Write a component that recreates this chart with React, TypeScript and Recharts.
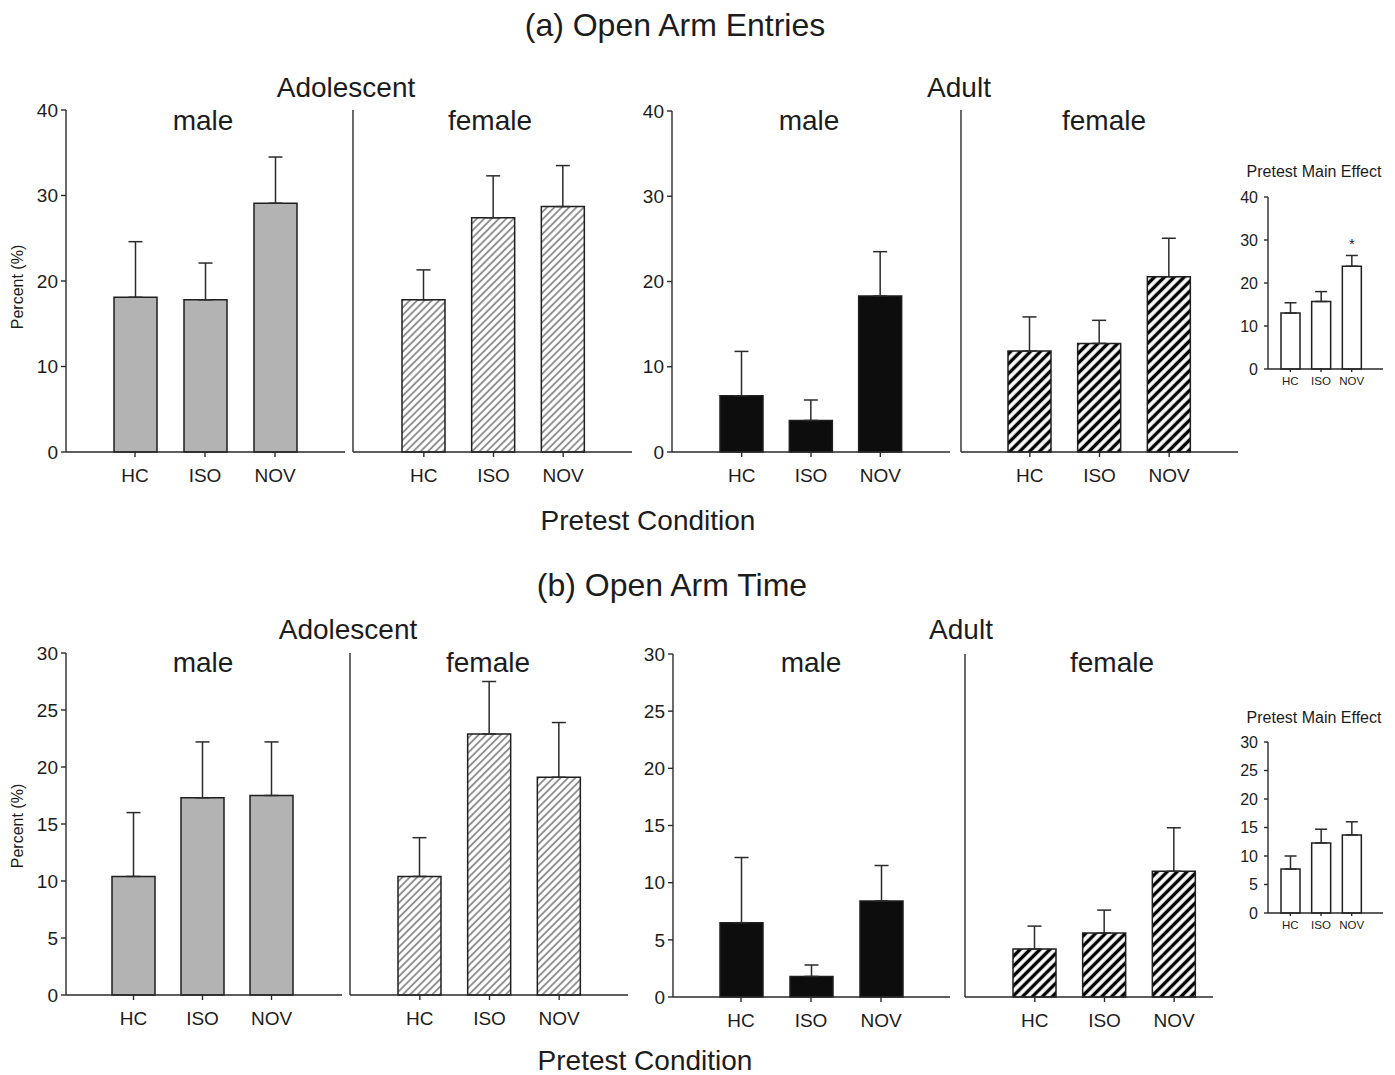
import React from "react";
import { BarChart, Bar, XAxis, YAxis, ErrorBar, LabelList } from "recharts";

const FONT = '"Liberation Sans", Arial, Helvetica, sans-serif';
const INK = "#1c1c1c";

const categories = ["HC", "ISO", "NOV"];

// (a) open arm entries, % (mean, SEM)
const entriesAdolMale = [18.1, 17.8, 29.1];
const entriesAdolMaleSem = [6.5, 4.3, 5.4];
const entriesAdolFemale = [17.8, 27.4, 28.7];
const entriesAdolFemaleSem = [3.5, 4.9, 4.8];
const entriesAdultMale = [6.6, 3.7, 18.3];
const entriesAdultMaleSem = [5.2, 2.4, 5.2];
const entriesAdultFemale = [11.8, 12.7, 20.5];
const entriesAdultFemaleSem = [4.0, 2.7, 4.5];
const entriesPretest = [13.0, 15.7, 23.9];
const entriesPretestSem = [2.4, 2.3, 2.5];
const entriesPretestSig = ["", "", "*"];

// (b) open arm time, %
const timeAdolMale = [10.4, 17.3, 17.5];
const timeAdolMaleSem = [5.6, 4.9, 4.7];
const timeAdolFemale = [10.4, 22.9, 19.1];
const timeAdolFemaleSem = [3.4, 4.6, 4.8];
const timeAdultMale = [6.5, 1.8, 8.4];
const timeAdultMaleSem = [5.7, 1.0, 3.1];
const timeAdultFemale = [4.2, 5.6, 11.0];
const timeAdultFemaleSem = [2.0, 2.0, 3.8];
const timePretest = [7.7, 12.3, 13.7];
const timePretestSem = [2.3, 2.4, 2.3];

const entryTicks = [0, 10, 20, 30, 40];
const timeTicks = [0, 5, 10, 15, 20, 25, 30];

type Row = { cat: string; mean: number; err: [number, number]; sig: string };

const rows = (means: number[], sems: number[], sig?: string[]): Row[] =>
  categories.map((cat, i) => ({ cat, mean: means[i], err: [0, sems[i]], sig: sig ? sig[i] : "" }));

type Fill = "gray" | "light" | "black" | "bold" | "white";

type PanelProps = {
  id: string;
  axisX: number;
  xEnd: number;
  yTop: number;
  yZero: number;
  padL: number;
  padR: number;
  ticks: number[];
  showLabels: boolean;
  data: Row[];
  fill: Fill;
  inset?: boolean;
};

const Panel = ({ id, axisX, xEnd, yTop, yZero, padL, padR, ticks, showLabels, data, fill, inset }: PanelProps) => {
  const yw = 50;
  const mt = 30;
  const mr = 10;
  const xh = 40;
  const width = yw + (xEnd - axisX) + mr;
  const height = mt + (yZero - yTop) + xh;
  const max = ticks[ticks.length - 1];
  const fillRef =
    fill === "gray" ? "#b3b3b3" : fill === "black" ? "#0d0d0d" : fill === "white" ? "#ffffff" : `url(#${id}-hatch)`;
  const axisStyle = { stroke: "#2a2a2a", strokeWidth: 1.4 };
  return (
    <div style={{ position: "absolute", left: axisX - yw, top: yTop - mt }}>
      <BarChart width={width} height={height} data={data} margin={{ top: mt, right: mr, bottom: 0, left: 0 }} style={{ fontFamily: FONT }}>
        <defs>
          <pattern id={`${id}-hatch`} patternUnits="userSpaceOnUse" width={fill === "bold" ? 7 : 5.2} height={8} patternTransform="rotate(45)">
            <rect width={8} height={8} fill="#ffffff" />
            {fill === "bold" ? (
              <line x1={3.5} y1={0} x2={3.5} y2={8} stroke="#000000" strokeWidth={3.4} />
            ) : (
              <line x1={2.6} y1={0} x2={2.6} y2={8} stroke="#8f8f8f" strokeWidth={1.9} />
            )}
          </pattern>
        </defs>
        <XAxis
          dataKey="cat"
          type="category"
          interval={0}
          padding={{ left: padL, right: padR }}
          height={xh}
          tickSize={inset ? 3 : 5}
          tickMargin={inset ? 5 : 12}
          axisLine={axisStyle}
          tickLine={axisStyle}
          tick={{ fontSize: inset ? 11.5 : 19, fill: INK, fontFamily: FONT }}
        />
        <YAxis
          type="number"
          domain={[0, max]}
          ticks={ticks}
          interval={0}
          width={yw}
          tickSize={inset ? 4 : 5}
          tickMargin={inset ? 6 : 3}
          axisLine={axisStyle}
          tickLine={axisStyle}
          tick={showLabels ? { fontSize: inset ? 16 : 19, fill: INK, fontFamily: FONT } : false}
        />
        {inset && (
          <XAxis xAxisId="frame" orientation="top" dataKey="cat" height={0} tick={false} tickLine={false} axisLine={axisStyle} />
        )}
        {inset && (
          <YAxis yAxisId="frame" orientation="right" domain={[0, max]} width={0} tick={false} tickLine={false} axisLine={axisStyle} />
        )}
        <Bar dataKey="mean" barSize={inset ? 19 : 43} fill={fillRef} stroke="#1f1f1f" strokeWidth={1.5} isAnimationActive={false}>
          <ErrorBar dataKey="err" direction="y" width={inset ? 6 : 7} stroke="#2a2a2a" strokeWidth={1.5} />
          {inset && (
            <LabelList
              dataKey="sig"
              content={(p: any) =>
                p.value ? (
                  <text x={Number(p.x) + Number(p.width) / 2} y={Number(p.y) - 17} textAnchor="middle" fontSize={15} fill={INK} fontFamily={FONT}>
                    {p.value}
                  </text>
                ) : null
              }
            />
          )}
        </Bar>
      </BarChart>
    </div>
  );
};

const Txt = ({ x, y, size, children, rotate }: { x: number; y: number; size: number; children: React.ReactNode; rotate?: boolean }) => (
  <div
    style={{
      position: "absolute",
      left: x,
      top: y,
      transform: `translate(-50%, -50%)${rotate ? " rotate(-90deg)" : ""}`,
      fontSize: size,
      lineHeight: 1,
      whiteSpace: "nowrap",
      color: INK,
      fontFamily: FONT,
    }}
  >
    {children}
  </div>
);

export default function App() {
  return (
    <div style={{ position: "absolute", left: 0, top: 0, width: 1395, height: 1075, background: "#fff" }}>
      {/* (a) open arm entries */}
      <Txt x={675} y={25} size={32}>(a) Open Arm Entries</Txt>
      <Txt x={346} y={88} size={28}>Adolescent</Txt>
      <Txt x={959} y={88} size={28}>Adult</Txt>
      <Txt x={203} y={121} size={28}>male</Txt>
      <Txt x={490} y={121} size={28}>female</Txt>
      <Txt x={809} y={121} size={28}>male</Txt>
      <Txt x={1104} y={121} size={28}>female</Txt>
      <Txt x={18} y={287} size={16} rotate>Percent (%)</Txt>
      <Txt x={648} y={521} size={28}>Pretest Condition</Txt>
      <Txt x={1314} y={172} size={16}>Pretest Main Effect</Txt>

      <Panel id="a1" axisX={66} xEnd={345} yTop={110} yZero={452} padL={34} padR={35} ticks={entryTicks} showLabels data={rows(entriesAdolMale, entriesAdolMaleSem)} fill="gray" />
      <Panel id="a2" axisX={353} xEnd={632} yTop={110} yZero={452} padL={36} padR={34} ticks={entryTicks} showLabels={false} data={rows(entriesAdolFemale, entriesAdolFemaleSem)} fill="light" />
      <Panel id="a3" axisX={672} xEnd={950} yTop={111} yZero={452} padL={35} padR={35} ticks={entryTicks} showLabels data={rows(entriesAdultMale, entriesAdultMaleSem)} fill="black" />
      <Panel id="a4" axisX={961} xEnd={1238} yTop={110} yZero={452} padL={34} padR={34} ticks={entryTicks} showLabels={false} data={rows(entriesAdultFemale, entriesAdultFemaleSem)} fill="bold" />
      <Panel id="a5" axisX={1268} xEnd={1383} yTop={197} yZero={369} padL={7} padR={16} ticks={entryTicks} showLabels data={rows(entriesPretest, entriesPretestSem, entriesPretestSig)} fill="white" inset />

      {/* (b) open arm time */}
      <Txt x={672} y={585} size={32}>(b) Open Arm Time</Txt>
      <Txt x={348} y={630} size={28}>Adolescent</Txt>
      <Txt x={961} y={630} size={28}>Adult</Txt>
      <Txt x={203} y={663} size={28}>male</Txt>
      <Txt x={488} y={663} size={28}>female</Txt>
      <Txt x={811} y={663} size={28}>male</Txt>
      <Txt x={1112} y={663} size={28}>female</Txt>
      <Txt x={18} y={826} size={16} rotate>Percent (%)</Txt>
      <Txt x={645} y={1061} size={28}>Pretest Condition</Txt>
      <Txt x={1314} y={718} size={16}>Pretest Main Effect</Txt>

      <Panel id="b1" axisX={66} xEnd={342} yTop={653} yZero={995} padL={33} padR={36} ticks={timeTicks} showLabels data={rows(timeAdolMale, timeAdolMaleSem)} fill="gray" />
      <Panel id="b2" axisX={350} xEnd={628} yTop={653} yZero={995} padL={35} padR={34} ticks={timeTicks} showLabels={false} data={rows(timeAdolFemale, timeAdolFemaleSem)} fill="light" />
      <Panel id="b3" axisX={673} xEnd={950} yTop={654} yZero={997} padL={33} padR={34} ticks={timeTicks} showLabels data={rows(timeAdultMale, timeAdultMaleSem)} fill="black" />
      <Panel id="b4" axisX={965} xEnd={1213} yTop={654} yZero={997} padL={35} padR={4} ticks={timeTicks} showLabels={false} data={rows(timeAdultFemale, timeAdultFemaleSem)} fill="bold" />
      <Panel id="b5" axisX={1268} xEnd={1383} yTop={742} yZero={913} padL={7} padR={16} ticks={timeTicks} showLabels data={rows(timePretest, timePretestSem)} fill="white" inset />
    </div>
  );
}
